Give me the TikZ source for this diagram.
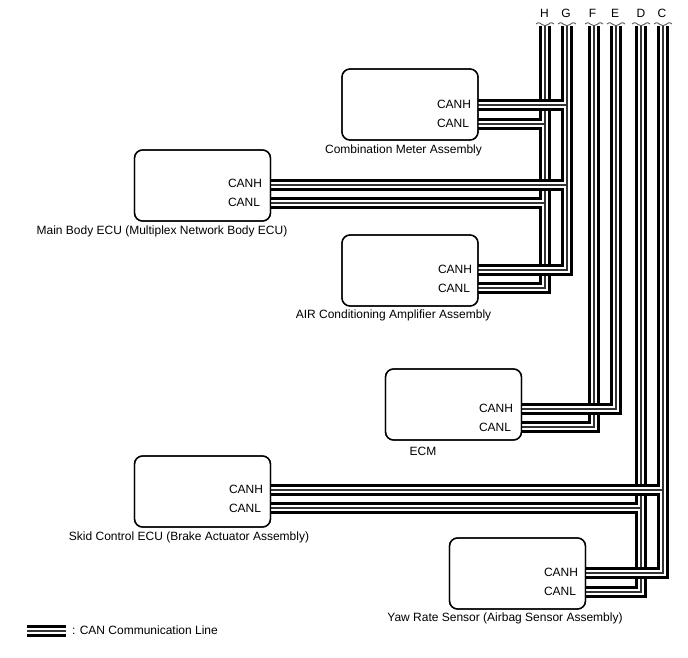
\documentclass[tikz,border=0pt]{standalone}
\usepackage{fontspec}
\setmainfont{Liberation Sans}
\tikzset{
  x=1pt,y=-1pt,
  every node/.style={font=\fontsize{12}{14}\selectfont,inner sep=0pt,outer sep=0pt},
  ecu/.style={draw=black,line width=1.3pt,rounded corners=8pt,minimum width=136pt,minimum height=71pt,anchor=north west},
  portlabel/.style={anchor=west},
  caption/.style={anchor=center},
  buslabel/.style={anchor=center},
  outer/.style={draw=black,line width=11.2pt,miter limit=10},
  inner/.style={draw=white,line width=6pt,miter limit=10},
  core/.style={draw=black!80,line width=1.3pt,miter limit=10},
  wave/.style={draw=black!65,line width=.9pt},
}
\newcommand{\cable}[1]{%
  \draw[outer] #1;
  \draw[inner] #1;
  \draw[core] #1;
}
\newcommand{\brk}[1]{%
  \fill[white] ([xshift=-9pt,yshift=3pt]#1) rectangle ([xshift=9pt,yshift=-1pt]#1);
  \draw[wave] ([xshift=-9pt,yshift=1pt]#1) .. controls +(3,-2) and +(-3,-2) .. ([xshift=-3pt,yshift=.5pt]#1)
     .. controls +(2,1.5) and +(-2,1.5) .. ([xshift=3pt,yshift=.5pt]#1)
     .. controls +(3,-2) and +(-3,-2) .. ([xshift=9pt,yshift=1pt]#1);
}
\begin{document}
\begin{tikzpicture}
\useasboundingbox (0,0) rectangle (688,658);
% boxes
\node[ecu] (cm) at (342,69) {};
\node[ecu] (mb) at (134.5,150) {};
\node[ecu] (ac) at (342,235) {};
\node[ecu] (ecm) at (385.5,369) {};
\node[ecu] (sk) at (134.5,456) {};
\node[ecu] (yr) at (449.5,538) {};
% bus top points
\coordinate (H) at (545,25);
\coordinate (G) at (567,25);
\coordinate (F) at (594,25);
\coordinate (E) at (616,25);
\coordinate (D) at (641,25);
\coordinate (C) at (663,25);
% ports on box edges
\coordinate (cmh) at (cm.north east |- 0,105);
\coordinate (cml) at (cm.north east |- 0,124);
\coordinate (mbh) at (mb.north east |- 0,185);
\coordinate (mbl) at (mb.north east |- 0,203);
\coordinate (ach) at (ac.north east |- 0,270);
\coordinate (acl) at (ac.north east |- 0,288);
\coordinate (ecmh) at (ecm.north east |- 0,409);
\coordinate (ecml) at (ecm.north east |- 0,427);
\coordinate (skh) at (sk.north east |- 0,490);
\coordinate (skl) at (sk.north east |- 0,508);
\coordinate (yrh) at (yr.north east |- 0,573);
\coordinate (yrl) at (yr.north east |- 0,592);
% cables, far bus first
\cable{(H) |- (acl) (cml) -- (H |- cml) (mbl) -- (H |- mbl)}
\cable{(G) |- (ach) (cmh) -- (G |- cmh) (mbh) -- (G |- mbh)}
\cable{(F) |- (ecml)}
\cable{(E) |- (ecmh)}
\cable{(D) |- (yrl) (skl) -- (D |- skl)}
\cable{(C) |- (yrh) (skh) -- (C |- skh)}
% redraw box frames over cable ends
\node[ecu] at (cm.north west) {};
\node[ecu] at (mb.north west) {};
\node[ecu] at (ac.north west) {};
\node[ecu] at (ecm.north west) {};
\node[ecu] at (sk.north west) {};
\node[ecu] at (yr.north west) {};
% break marks and letters
\brk{H}\brk{G}\brk{F}\brk{E}\brk{D}\brk{C}
\node[buslabel] (lH) at (544.5,13.5) {H};
\node[buslabel] (lG) at (566,13.5) {G};
\node[buslabel] (lF) at (592.5,13.5) {F};
\node[buslabel] (lE) at (615,13.5) {E};
\node[buslabel] (lD) at (641,13.5) {D};
\node[buslabel] (lC) at (662,13.5) {C};
% port labels
\node[portlabel] (tcmh) at (437,104) {CANH};
\node[portlabel] (tcml) at (437,123) {CANL};
\node[portlabel] (tmbh) at (228,183) {CANH};
\node[portlabel] (tmbl) at (228,202) {CANL};
\node[portlabel] (tach) at (438,269) {CANH};
\node[portlabel] (tacl) at (438,288) {CANL};
\node[portlabel] (tecmh) at (479,408) {CANH};
\node[portlabel] (tecml) at (479,427) {CANL};
\node[portlabel] (tskh) at (229,489) {CANH};
\node[portlabel] (tskl) at (229,508) {CANL};
\node[portlabel] (tyrh) at (544,572) {CANH};
\node[portlabel] (tyrl) at (544,591) {CANL};
% captions
\node[caption] (ccm) at (403.5,150) {Combination Meter Assembly};
\node[caption] (cmb) at (162,231) {Main Body ECU (Multiplex Network Body ECU)};
\node[caption] (cac) at (393.5,315) {AIR Conditioning Amplifier Assembly};
\node[caption] (cecm) at (423,451) {ECM};
\node[caption] (csk) at (189,537) {Skid Control ECU (Brake Actuator Assembly)};
\node[caption] (cyr) at (505,618) {Yaw Rate Sensor (Airbag Sensor Assembly)};
% legend
\coordinate (la) at (27,631);
\coordinate (lb) at (65.5,631);
\cable{(la) -- (lb)}
\node[portlabel] (lt) at (72,630) {: CAN Communication Line};
\end{tikzpicture}
\end{document}
